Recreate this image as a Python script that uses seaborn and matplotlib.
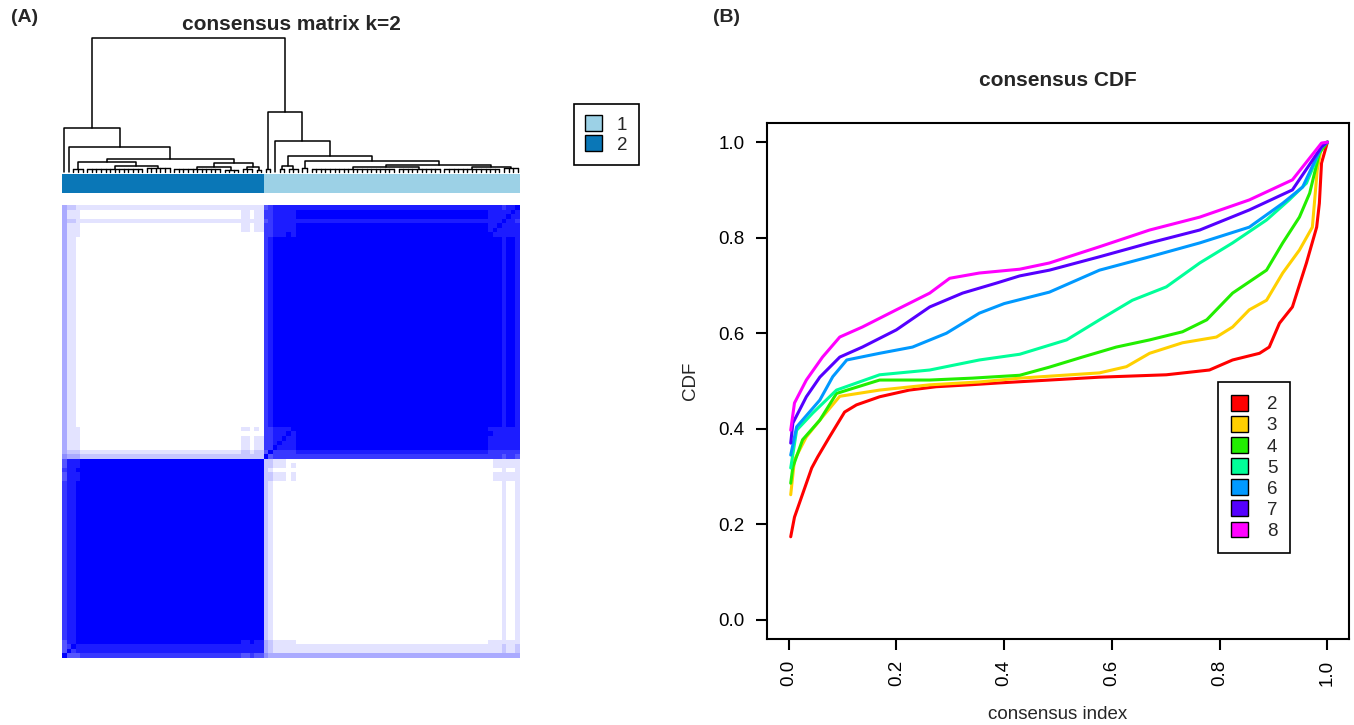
import numpy as np
import pandas as pd
import seaborn as sns
import matplotlib.pyplot as plt
from matplotlib.colors import ListedColormap
from matplotlib.patches import Patch

# ---- panel A data: cluster sizes and per-sample stability (column order)
n_c2 = 44
n_c1 = 56
stab_c2 = [0.70, 0.88, 0.88, 0.90] + [1.0] * 35 + [0.95, 0.95, 1.0, 0.95, 0.97]
stab_c1 = [0.75, 0.80, 0.92, 0.90, 0.92, 0.95, 0.93] + [1.0] * 42 + [0.95, 0.92, 0.90, 0.88, 0.90, 0.92, 0.88]

# dendrogram: node = [height, left, right], clump = (n_leaves, height)
tree_c2 = [0.33, (1, 0), [0.19, (1, 0), [0.10, [0.075, (3, 0.02), [0.045, (13, 0.025), (6, 0.03)]],
                                          [0.065, [0.035, (11, 0.02), (4, 0.015)], [0.04, (3, 0.02), (2, 0.015)]]]]]
tree_c1 = [0.45, (2, 0.02), [0.23, (1, 0), [0.12, [0.045, (2, 0.02), (3, 0.025)],
                                            [0.085, (2, 0.03), [0.055, [0.04, (19, 0.025), (10, 0.02)],
                                                                [0.035, (13, 0.02), (4, 0.03)]]]]]]
tree = [1.0, tree_c2, tree_c1]

# ---- panel B data: consensus CDF curves
k_values = ['2', '3', '4', '5', '6', '7', '8']
x_k2 = [0.004, 0.011, 0.043, 0.054, 0.076, 0.104, 0.126, 0.169, 0.224, 0.274, 0.336, 0.391, 0.577, 0.701, 0.781, 0.824, 0.874, 0.892, 0.911, 0.935, 0.961, 0.980, 0.985, 0.989, 1.0]
y_k2 = [0.174, 0.215, 0.318, 0.341, 0.383, 0.435, 0.450, 0.467, 0.481, 0.488, 0.492, 0.496, 0.508, 0.513, 0.523, 0.544, 0.558, 0.571, 0.621, 0.655, 0.747, 0.822, 0.872, 0.956, 1.0]
x_k3 = [0.004, 0.011, 0.033, 0.063, 0.095, 0.169, 0.262, 0.354, 0.429, 0.577, 0.627, 0.670, 0.731, 0.794, 0.824, 0.855, 0.887, 0.917, 0.948, 0.972, 0.981, 0.989, 1.0]
y_k3 = [0.262, 0.335, 0.383, 0.425, 0.468, 0.481, 0.492, 0.498, 0.506, 0.517, 0.530, 0.558, 0.580, 0.592, 0.613, 0.649, 0.669, 0.726, 0.774, 0.822, 0.941, 0.990, 1.0]
x_k4 = [0.004, 0.008, 0.026, 0.058, 0.089, 0.169, 0.262, 0.341, 0.429, 0.484, 0.545, 0.608, 0.670, 0.731, 0.776, 0.824, 0.887, 0.917, 0.948, 0.967, 0.985, 1.0]
y_k4 = [0.286, 0.320, 0.377, 0.418, 0.474, 0.502, 0.502, 0.506, 0.512, 0.529, 0.550, 0.571, 0.586, 0.603, 0.628, 0.684, 0.732, 0.789, 0.843, 0.893, 0.977, 1.0]
x_k5 = [0.004, 0.015, 0.045, 0.089, 0.169, 0.262, 0.354, 0.429, 0.516, 0.577, 0.638, 0.701, 0.763, 0.824, 0.887, 0.929, 0.961, 0.989, 1.0]
y_k5 = [0.318, 0.397, 0.433, 0.481, 0.513, 0.523, 0.544, 0.556, 0.586, 0.628, 0.669, 0.697, 0.747, 0.789, 0.837, 0.879, 0.914, 0.990, 1.0]
x_k6 = [0.004, 0.015, 0.058, 0.082, 0.108, 0.169, 0.230, 0.293, 0.354, 0.400, 0.484, 0.577, 0.670, 0.763, 0.855, 0.917, 0.954, 0.989, 1.0]
y_k6 = [0.345, 0.404, 0.460, 0.509, 0.544, 0.558, 0.571, 0.600, 0.642, 0.662, 0.686, 0.732, 0.760, 0.789, 0.822, 0.872, 0.906, 0.990, 1.0]
x_k7 = [0.004, 0.008, 0.033, 0.058, 0.095, 0.137, 0.200, 0.262, 0.323, 0.386, 0.429, 0.484, 0.577, 0.670, 0.763, 0.855, 0.935, 0.989, 1.0]
y_k7 = [0.370, 0.412, 0.467, 0.508, 0.550, 0.571, 0.607, 0.655, 0.684, 0.705, 0.720, 0.732, 0.760, 0.789, 0.816, 0.858, 0.900, 0.990, 1.0]
x_k8 = [0.004, 0.011, 0.033, 0.063, 0.095, 0.137, 0.200, 0.262, 0.299, 0.354, 0.429, 0.484, 0.577, 0.670, 0.763, 0.855, 0.935, 0.989, 1.0]
y_k8 = [0.397, 0.454, 0.502, 0.550, 0.592, 0.613, 0.649, 0.684, 0.715, 0.726, 0.734, 0.747, 0.781, 0.816, 0.843, 0.879, 0.921, 0.998, 1.0]

k_colors = ['#FF0000', '#FFD000', '#22EE00', '#00FF99', '#0099FF', '#5500FF', '#FF00FF']
c1_color = '#9CD1E6'
c2_color = '#0A77B7'

sns.set_theme(style='white')
plt.rcParams['font.family'] = ['Liberation Sans', 'DejaVu Sans']

W, H = 1354, 725
fig = plt.figure(figsize=(W / 100, H / 100), dpi=100)


def box(x0, y0, x1, y1):
    # pixel box -> figure fraction
    return [x0 / W, 1 - y1 / H, (x1 - x0) / W, (y1 - y0) / H]


# ---------------- panel A ----------------
labels = np.array([2] * n_c2 + [1] * n_c1)
stab = np.array(stab_c2 + stab_c1)
same = labels[:, None] == labels[None, :]
a, b = stab[:, None], stab[None, :]
cons = np.where(same, a * b + (1 - a) * (1 - b), a * (1 - b) + (1 - a) * b)
np.fill_diagonal(cons, 1.0)
cons_df = pd.DataFrame(cons[::-1])  # rows drawn bottom-up like the R image

ax_hm = fig.add_axes(box(62, 205, 520, 658))
hm_cmap = ListedColormap(sns.blend_palette(['white', 'blue'], 10))
sns.heatmap(cons_df, ax=ax_hm, cmap=hm_cmap, vmin=0, vmax=1, cbar=False,
            xticklabels=False, yticklabels=False)

ax_bar = fig.add_axes(box(62, 174, 520, 193))
sns.heatmap(pd.DataFrame([labels]), ax=ax_bar, cmap=ListedColormap([c1_color, c2_color]),
            vmin=1, vmax=2, cbar=False, xticklabels=False, yticklabels=False)

ax_dg = fig.add_axes(box(62, 38, 520, 172))
ax_dg.set_xlim(0, len(labels))
ax_dg.set_ylim(0, 1.0)
ax_dg.axis('off')


def draw(node, start):
    # returns (x centre, height, next leaf index)
    if isinstance(node, tuple):
        k, h = node
        xs = [start + i + 0.5 for i in range(k)]
        if k == 1:
            return xs[0], 0.0, start + 1
        for x in xs:
            ax_dg.plot([x, x], [0, h], color='black', lw=1, clip_on=False)
        ax_dg.plot([xs[0], xs[-1]], [h, h], color='black', lw=1, clip_on=False)
        return (xs[0] + xs[-1]) / 2, h, start + k
    h, left, right = node
    xl, hl, nxt = draw(left, start)
    xr, hr, nxt = draw(right, nxt)
    ax_dg.plot([xl, xl, xr, xr], [hl, h, h, hr], color='black', lw=1.1, clip_on=False)
    return (xl + xr) / 2, h, nxt


draw(tree, 0)

fig.text(291 / W, 1 - 25 / H, 'consensus matrix k=2', ha='center', va='center',
         fontsize=15, fontweight='bold')
fig.text(25 / W, 1 - 18 / H, '(A)', ha='center', va='center', fontsize=14, fontweight='bold')

leg_a = fig.legend(handles=[Patch(facecolor=c1_color, edgecolor='black', label='1'),
                            Patch(facecolor=c2_color, edgecolor='black', label='2')],
                   loc='upper left', bbox_to_anchor=(574 / W, 1 - 104 / H), borderaxespad=0,
                   frameon=True, fancybox=False, edgecolor='black', framealpha=1,
                   fontsize=13.5, handlelength=0.9, handleheight=0.9, handletextpad=0.8,
                   labelspacing=0.1, borderpad=0.6)
leg_a.get_frame().set_linewidth(1.2)

# ---------------- panel B ----------------
xs_all = [x_k2, x_k3, x_k4, x_k5, x_k6, x_k7, x_k8]
ys_all = [y_k2, y_k3, y_k4, y_k5, y_k6, y_k7, y_k8]
frames = []
for k, xs, ys in zip(k_values, xs_all, ys_all):
    frames.append(pd.DataFrame({'consensus index': xs, 'CDF': ys, 'k': k}))
cdf = pd.concat(frames, ignore_index=True)

ax = fig.add_axes(box(767, 123, 1349, 639))
sns.lineplot(data=cdf, x='consensus index', y='CDF', hue='k', hue_order=k_values,
             palette=k_colors, estimator=None, lw=2.2, legend=False, ax=ax)
ax.set_xlim(-0.04, 1.04)
ax.set_ylim(-0.04, 1.04)
ticks = [0.0, 0.2, 0.4, 0.6, 0.8, 1.0]
ax.set_xticks(ticks)
ax.set_xticklabels([f'{t:.1f}' for t in ticks], rotation=90)
ax.set_yticks(ticks)
ax.set_yticklabels([f'{t:.1f}' for t in ticks])
ax.tick_params(axis='both', direction='out', length=8, width=1.5, colors='black',
               labelsize=13.5, bottom=True, left=True)
ax.tick_params(axis='y', pad=8)
ax.tick_params(axis='x', pad=7)
for s in ax.spines.values():
    s.set_color('black')
    s.set_linewidth(1.5)
ax.set_xlabel('consensus index', fontsize=13.5, labelpad=14)
ax.set_ylabel('CDF', fontsize=13.5, labelpad=14)

fig.text(1058 / W, 1 - 80 / H, 'consensus CDF', ha='center', va='center',
         fontsize=15, fontweight='bold')
fig.text(727 / W, 1 - 18 / H, '(B)', ha='center', va='center', fontsize=14, fontweight='bold')

leg_b = ax.legend(handles=[Patch(facecolor=c, edgecolor='black', label=k)
                           for k, c in zip(k_values, k_colors)],
                  loc='upper left', bbox_to_anchor=((1218 - 767) / 582, (639 - 382) / 516),
                  borderaxespad=0, frameon=True, fancybox=False, edgecolor='black',
                  framealpha=1, fontsize=13.5, handlelength=0.9, handleheight=0.9,
                  handletextpad=1.0, labelspacing=0.15, borderpad=0.7)
leg_b.get_frame().set_linewidth(1.2)

fig.savefig('out.png', dpi=100)
